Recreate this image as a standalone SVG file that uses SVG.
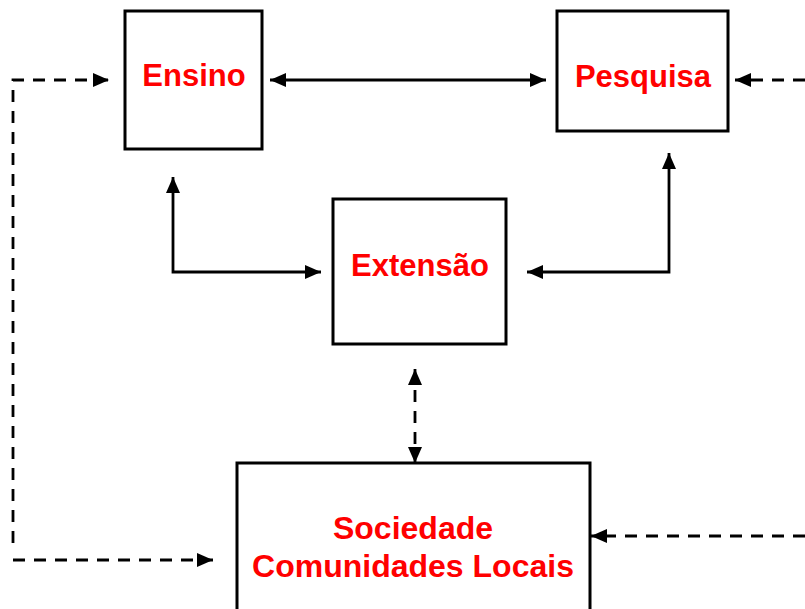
<svg xmlns="http://www.w3.org/2000/svg" width="805" height="609" viewBox="0 0 805 609">
<style>
.box{fill:#fff;stroke:#000;stroke-width:3}
.lbl{font-family:"Liberation Sans",Arial,sans-serif;font-weight:bold;font-size:31px;fill:#ff0000;text-anchor:middle}
.solid{fill:none;stroke:#000;stroke-width:2.8}
.dash{fill:none;stroke:#000;stroke-width:2.8;stroke-dasharray:12 9}
</style>
<defs>
<marker id="ah" viewBox="0 0 16 14" refX="16" refY="7" markerWidth="16" markerHeight="14" markerUnits="userSpaceOnUse" orient="auto-start-reverse">
<path d="M0,0 L16,7 L0,14 z" fill="#000"/>
</marker>
</defs>
<rect width="805" height="609" fill="#fff"/>
<g id="connectors">
<line class="solid" x1="270" y1="80" x2="546" y2="80" marker-start="url(#ah)" marker-end="url(#ah)"/>
<path class="dash" d="M13,543 L13,80 L109,80" marker-end="url(#ah)"/>
<path class="dash" d="M13,560 L213,560" marker-end="url(#ah)"/>
<path class="dash" d="M805,80 L735,80" marker-end="url(#ah)"/>
<path class="dash" d="M805,536 L591,536" marker-end="url(#ah)"/>
<path class="solid" d="M321,272 L173,272 L173,177" marker-start="url(#ah)" marker-end="url(#ah)"/>
<path class="solid" d="M527,272 L669,272 L669,153" marker-start="url(#ah)" marker-end="url(#ah)"/>
<path class="dash" d="M415,369 L415,463" marker-start="url(#ah)" marker-end="url(#ah)"/>
</g>
<g id="ensino">
<rect class="box" x="125" y="11" width="137" height="138"/>
<text class="lbl" x="194" y="86">Ensino</text>
</g>
<g id="pesquisa">
<rect class="box" x="557" y="11" width="171" height="120"/>
<text class="lbl" x="643" y="87">Pesquisa</text>
</g>
<g id="extensao">
<rect class="box" x="333" y="199" width="173" height="145"/>
<text class="lbl" x="420" y="276">Extensão</text>
</g>
<g id="sociedade">
<rect class="box" x="237" y="463" width="353" height="160"/>
<text class="lbl" x="413" y="539" style="font-size:32px">Sociedade</text>
<text class="lbl" x="413" y="577" style="font-size:32px">Comunidades Locais</text>
</g>
</svg>
